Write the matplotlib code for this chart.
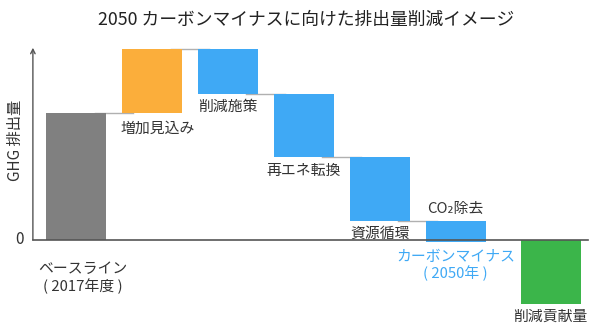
import numpy as np
import matplotlib
matplotlib.use("Agg")
import matplotlib.pyplot as plt

plt.rcParams["font.family"] = ["Noto Sans CJK JP", "DejaVu Sans"]

# waterfall steps (GHG emission, arbitrary units)
step_labels = ["ベースライン\n( 2017年度 )", "増加見込み", "削減施策", "再エネ転換", "資源循環", "CO₂除去"]
step_changes = [100, 50, -35, -50, -50, -17]
step_colors = ["#808080", "#FBAE3B", "#3FA9F5", "#3FA9F5", "#3FA9F5", "#3FA9F5"]

result_label = "カーボンマイナス\n( 2050年 )"
contribution_label = "削減貢献量"
contribution_value = -50
contribution_color = "#3BB54A"

title = "2050 カーボンマイナスに向けた排出量削減イメージ"
y_label = "GHG 排出量"

text_color = "#333333"
axis_color = "#555555"
link_color = "#B0B0B0"
bar_width = 0.79
label_size = 10.7

fig = plt.figure(figsize=(6.0, 3.26), dpi=100)
ax = fig.add_axes([0, 0, 1, 1])
ax.set_xlim(-1.0, 6.9)
ax.set_ylim(-67.6, 188.5)
ax.axis("off")

# running totals for the waterfall
ends = np.cumsum(step_changes)
starts = np.concatenate([[0], ends[:-1]])
bottoms = np.minimum(starts, ends)
heights = np.abs(np.array(step_changes))
x = np.arange(len(step_changes))

ax.bar(x, heights, bottom=bottoms, width=bar_width, color=step_colors, zorder=2)

# connector lines between consecutive bars
for i in range(len(step_changes) - 1):
    ax.plot([x[i] + bar_width / 2 - 0.15, x[i + 1] - bar_width / 2 + 0.15],
            [ends[i], ends[i]], color=link_color, lw=1, zorder=1)

# contribution bar (below zero)
x_contrib = 6.25
ax.bar(x_contrib, contribution_value, width=bar_width, color=contribution_color, zorder=2)

# axes lines
ax.plot([-0.567, 6.746], [0, 0], color=axis_color, lw=1.2, zorder=3)
ax.annotate("", xy=(-0.567, 151), xytext=(-0.567, 0),
            arrowprops=dict(arrowstyle="->", color=axis_color, lw=1.0,
                            mutation_scale=8, shrinkA=0, shrinkB=0), zorder=3)
ax.text(-0.74, 0, "0", fontsize=11, color=text_color, ha="center", va="center")
ax.text(-0.80, 78.5, y_label, fontsize=11, color=text_color, rotation=90,
        ha="center", va="center")

# bar labels
ax.text(x[0] + 0.09, -17, step_labels[0], fontsize=label_size, color=text_color,
        ha="center", va="top", linespacing=1.2)
ax.text(x[1] + 0.07, starts[1] - 12.8, step_labels[1], fontsize=label_size, color=text_color,
        ha="center", va="center")
for i in range(2, 5):
    ax.text(x[i], ends[i] - 10.5, step_labels[i], fontsize=label_size, color=text_color,
            ha="center", va="center")
ax.text(x[5], starts[5] + 9, step_labels[5], fontsize=label_size, color=text_color,
        ha="center", va="center")
ax.text(x[5], -7.5, result_label, fontsize=label_size, color="#3FA9F5",
        ha="center", va="top", linespacing=1.15)
ax.text(x_contrib, contribution_value - 10, contribution_label, fontsize=label_size,
        color=text_color, ha="center", va="center")

fig.text(0.51, 0.938, title, fontsize=12.8, color="#222222", ha="center", va="center")

fig.savefig("out.png", dpi=100)
